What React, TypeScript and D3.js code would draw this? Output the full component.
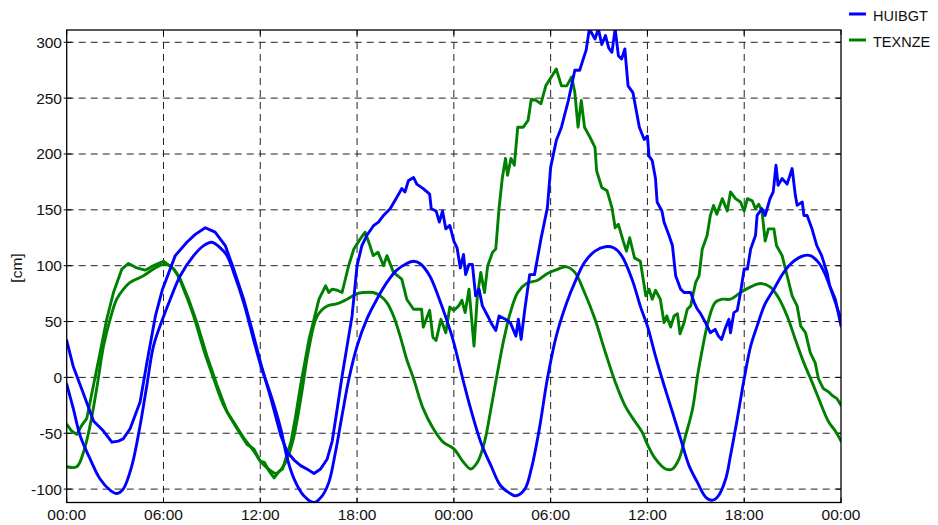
import React from 'react';
import * as d3 from 'd3';

// hours since start (0..48), values in cm
const xTickHours = [0, 6, 12, 18, 24, 30, 36, 42, 48];
const xTickLabels = ['00:00', '06:00', '12:00', '18:00', '00:00', '06:00', '12:00', '18:00', '00:00'];
const yTicks = [-100, -50, 0, 50, 100, 150, 200, 250, 300];
const seriesNames = ['HUIBGT', 'TEXNZE'];
const seriesColors = ['#0000ff', '#008000'];

// HUIBGT observed
const huibgtObs: [number, number][] = [
  [0, 33], [0.4, 10], [1.0, -13], [1.66, -39], [2.28, -48], [2.8, -58], [3.2, -57], [3.5, -55], [3.93, -46],
  [4.55, -22], [4.97, 13], [5.5, 55], [5.94, 79], [6.73, 109], [7.45, 121], [7.97, 128], [8.59, 134], [9.2, 130],
  [9.83, 118], [10.35, 97], [10.97, 70], [11.5, 42], [12.04, 12], [12.66, -19], [13.27, -52], [13.68, -67],
  [14.1, -74], [14.5, -79], [15.0, -83], [15.33, -86], [15.74, -82], [16.15, -73], [16.46, -57], [16.77, -28],
  [17.07, 1], [17.38, 28], [17.69, 55], [18.0, 100], [18.3, 118], [18.6, 127], [19.03, 136], [19.33, 139],
  [19.64, 145], [20.05, 151], [20.46, 161], [20.77, 169], [20.97, 166], [21.18, 176], [21.5, 179], [21.7, 173],
  [22.1, 169], [22.5, 164], [22.6, 151], [22.9, 149], [23.1, 139], [23.3, 149], [23.5, 133], [23.75, 136],
  [24.0, 122], [24.2, 116], [24.4, 98], [24.6, 110], [24.73, 92], [24.94, 101], [25.15, 101], [25.35, 73],
  [25.56, 79], [25.77, 64], [26.1, 55], [26.3, 49], [26.6, 42], [26.8, 55], [27.2, 52], [27.5, 49], [27.85, 37],
  [28.0, 52], [28.17, 34], [28.4, 61], [28.7, 92], [29.0, 92], [29.4, 124], [29.8, 152], [30.0, 188],
  [30.35, 212], [30.67, 224], [31.1, 248], [31.5, 275], [31.8, 275], [32.0, 284], [32.2, 293], [32.4, 312],
  [32.75, 303], [32.96, 312], [33.17, 298], [33.4, 306], [33.6, 295], [33.8, 291], [34.0, 312], [34.2, 288],
  [34.4, 285], [34.6, 294], [34.8, 261], [35.1, 255], [35.5, 224], [35.8, 213], [36.0, 216], [36.1, 198],
  [36.3, 194], [36.5, 178], [36.6, 157], [36.9, 149], [37.03, 139], [37.34, 127], [37.55, 118], [37.75, 91],
  [38.06, 79], [38.27, 76], [38.68, 76], [38.9, 67], [39.1, 61], [39.3, 57], [39.6, 49], [39.9, 40], [40.2, 43],
  [40.4, 37], [40.6, 34], [40.8, 43], [41.05, 52], [41.15, 40], [41.36, 58], [41.57, 60], [41.77, 76],
  [42.0, 97], [42.2, 97], [42.4, 115], [42.7, 127], [42.8, 145], [43.1, 151], [43.3, 145], [43.6, 160],
  [43.8, 166], [43.97, 190], [44.1, 172], [44.35, 178], [44.66, 173], [44.97, 187], [45.17, 163], [45.28, 154],
  [45.6, 157], [45.7, 145], [45.9, 145], [46.2, 133], [46.5, 118], [46.8, 109], [47.13, 94], [47.3, 82],
  [47.65, 70], [48, 46],
];

// HUIBGT astronomical
const huibgtAstro: [number, number][] = [
  [0, -6], [0.41, -28], [0.83, -52], [1.45, -73], [2.07, -91], [2.69, -101], [3.1, -104], [3.5, -100],
  [4.04, -79], [4.55, -43], [4.97, -7], [5.38, 28], [5.94, 52], [6.42, 70], [7.04, 91], [7.87, 109],
  [8.49, 118], [9.0, 121], [9.52, 116], [9.94, 109], [10.35, 94], [10.97, 67], [11.6, 33], [12.04, 10],
  [12.66, -16], [13.27, -46], [13.68, -73], [14.1, -91], [14.7, -106], [15.33, -112], [15.84, -106],
  [16.25, -94], [16.66, -67], [17.07, -34], [17.5, -1], [18.0, 28], [18.6, 52], [19.23, 70], [19.85, 85],
  [20.46, 96], [21.08, 102], [21.5, 104], [21.9, 102], [22.5, 91], [23.1, 70], [23.75, 43], [24.0, 31],
  [24.6, -4], [25.04, -28], [25.67, -58], [26.3, -79], [26.9, -97], [27.5, -104], [27.85, -106], [28.4, -100],
  [28.8, -82], [29.3, -46], [29.8, -1], [30.35, 37], [31.0, 67], [31.5, 85], [32.1, 103], [32.75, 113],
  [33.4, 117], [33.9, 116], [34.4, 109], [35.04, 88], [35.6, 62], [36.0, 46], [36.5, 19], [37.03, -7],
  [37.55, -31], [38.06, -55], [38.58, -79], [39.1, -94], [39.6, -107], [40.0, -110], [40.4, -106],
  [40.85, -91], [41.15, -70], [41.57, -37], [42.0, -1], [42.4, 28], [42.8, 46], [43.3, 66], [43.84, 79],
  [44.45, 94], [45.07, 104], [45.7, 109], [46.1, 109], [46.6, 103], [47.0, 93], [47.44, 76], [48, 52],
];

// TEXNZE observed
const texnzeObs: [number, number][] = [
  [0, -42], [0.31, -48], [0.62, -51], [0.93, -43], [1.24, -37], [1.66, -7], [2.07, 22], [2.48, 52], [2.9, 76],
  [3.42, 97], [3.83, 102], [4.35, 98], [4.86, 96], [5.38, 100], [6.0, 104], [6.63, 97], [7.04, 88], [7.56, 70],
  [8.07, 49], [8.7, 19], [9.32, -7], [9.94, -31], [10.56, -46], [11.18, -60], [11.6, -64], [12.0, -75],
  [12.25, -76], [12.55, -84], [12.86, -90], [13.17, -84], [13.38, -82], [13.9, -58], [14.2, -34], [14.5, -7],
  [15.02, 34], [15.33, 52], [15.64, 70], [16.05, 82], [16.25, 76], [16.46, 79], [16.77, 78], [17.07, 76],
  [17.48, 100], [17.8, 115], [18.2, 124], [18.5, 130], [18.8, 118], [19.0, 109], [19.3, 112], [19.64, 100],
  [19.85, 109], [20.26, 94], [20.77, 88], [21.08, 70], [21.5, 61], [22.0, 61], [22.1, 45], [22.5, 60],
  [22.7, 36], [22.9, 33], [23.2, 52], [23.5, 40], [23.75, 63], [24.0, 60], [24.3, 64], [24.5, 69], [24.7, 58],
  [24.94, 79], [25.25, 28], [25.46, 73], [25.67, 94], [25.9, 76], [26.1, 100], [26.4, 112], [26.6, 115],
  [26.8, 151], [27.0, 178], [27.2, 196], [27.33, 181], [27.54, 196], [27.75, 190], [27.96, 224], [28.3, 224],
  [28.6, 230], [28.8, 249], [29.1, 248], [29.4, 245], [29.7, 261], [30.04, 269], [30.35, 276], [30.67, 261],
  [31.0, 261], [31.3, 269], [31.5, 255], [31.7, 224], [31.9, 248], [32.1, 224], [32.44, 215], [32.75, 206],
  [32.85, 185], [33.17, 170], [33.5, 167], [33.8, 152], [34.0, 134], [34.2, 137], [34.5, 122], [34.7, 113],
  [34.9, 125], [35.2, 107], [35.56, 104], [35.8, 82], [35.9, 73], [36.1, 79], [36.3, 70], [36.5, 78],
  [36.8, 70], [37.03, 49], [37.2, 55], [37.44, 45], [37.65, 55], [37.86, 57], [38.02, 39], [38.27, 49],
  [38.47, 61], [38.68, 64], [38.99, 85], [39.2, 91], [39.4, 115], [39.7, 127], [39.9, 145], [40.1, 154],
  [40.3, 146], [40.64, 160], [40.95, 149], [41.15, 166], [41.46, 160], [41.77, 157], [42.0, 149], [42.2, 160],
  [42.5, 158], [42.7, 151], [42.9, 155], [43.1, 149], [43.3, 122], [43.5, 133], [43.84, 133], [44.0, 118],
  [44.35, 109], [44.66, 91], [44.97, 73], [45.28, 64], [45.5, 46], [45.8, 40], [46.1, 22], [46.4, 13],
  [46.6, -1], [46.9, -10], [47.24, -13], [47.44, -16], [47.75, -19], [48, -25],
];

// TEXNZE astronomical
const texnzeAstro: [number, number][] = [
  [0, -80], [0.62, -80], [1.04, -67], [1.45, -43], [1.86, -10], [2.28, 28], [2.69, 52], [3.1, 70], [3.52, 79],
  [3.93, 85], [4.76, 91], [5.38, 97], [5.94, 101], [6.42, 100], [6.83, 93], [7.25, 79], [7.87, 55], [8.49, 25],
  [9.11, -1], [9.73, -25], [10.35, -40], [10.97, -54], [11.6, -66], [12.0, -75], [12.5, -82], [13.0, -86],
  [13.5, -78], [14.0, -58], [14.5, -20], [15.0, 25], [15.53, 55], [16.15, 64], [16.77, 66], [17.38, 70],
  [18.0, 75], [18.4, 76], [19.0, 76], [19.44, 73], [19.85, 67], [20.26, 55], [20.67, 37], [21.08, 16],
  [21.5, -1], [22.1, -28], [22.73, -46], [23.34, -58], [24.0, -64], [24.6, -76], [25.04, -82], [25.46, -76],
  [25.9, -58], [26.3, -28], [26.7, 4], [27.1, 34], [27.5, 58], [27.96, 76], [28.5, 84], [29.2, 87], [29.8, 93],
  [30.46, 97], [31.0, 99], [31.5, 94], [32.1, 76], [32.75, 52], [33.4, 22], [34.0, -4], [34.6, -25],
  [35.25, -40], [35.67, -49], [36.0, -60], [36.5, -73], [37.13, -82], [37.55, -82], [37.96, -73], [38.37, -52],
  [38.8, -28], [39.1, 1], [39.4, 25], [39.8, 52], [40.2, 67], [40.64, 70], [41.15, 70], [41.77, 76], [42.4, 81],
  [43.0, 84], [43.6, 81], [44.1, 72], [44.66, 55], [45.17, 34], [45.7, 13], [46.2, -4], [46.7, -22],
  [47.24, -40], [47.65, -48], [48, -57],
];

const FONT = '"Liberation Sans", Arial, Helvetica, sans-serif';

export default function App() {
  const W = 938;
  const H = 525;
  const left = 66.7, right = 841, top = 30, bottom = 502.5;
  const x = d3.scaleLinear().domain([0, 48]).range([left, right]);
  const y = d3.scaleLinear().domain([-112, 311]).range([bottom, top]);

  const lineLin = d3.line<[number, number]>().x(d => x(d[0])).y(d => y(d[1]));
  const lineSmooth = d3
    .line<[number, number]>()
    .x(d => x(d[0]))
    .y(d => y(d[1]))
    .curve(d3.curveCatmullRom.alpha(0.5));

  const sw = 2.9;

  return (
    <svg
      width={W}
      height={H}
      style={{ position: 'absolute', left: 0, top: 0, background: '#fff' }}
      fontFamily={FONT}
    >
      <defs>
        <clipPath id="plotclip">
          <rect x={left} y={top} width={right - left} height={bottom - top} />
        </clipPath>
      </defs>
      <rect x={0} y={0} width={W} height={H} fill="#fff" />

      {/* grid */}
      <g stroke="#222" strokeWidth={1} strokeDasharray="7,5" fill="none">
        {xTickHours.slice(1, -1).map((h, i) => (
          <line key={'gx' + i} x1={x(h)} x2={x(h)} y1={top} y2={bottom} />
        ))}
        {yTicks.map((v, i) => (
          <line key={'gy' + i} x1={left} x2={right} y1={y(v)} y2={y(v)} />
        ))}
      </g>

      {/* ticks */}
      <g stroke="#000" strokeWidth={1}>
        {xTickHours.map((h, i) => (
          <g key={'tx' + i}>
            <line x1={x(h)} x2={x(h)} y1={bottom} y2={bottom - 5} />
            <line x1={x(h)} x2={x(h)} y1={top} y2={top + 5} />
          </g>
        ))}
        {yTicks.map((v, i) => (
          <g key={'ty' + i}>
            <line x1={left - 3} x2={left + 5} y1={y(v)} y2={y(v)} />
            <line x1={right - 5} x2={right} y1={y(v)} y2={y(v)} />
          </g>
        ))}
      </g>

      {/* lines */}
      <g clipPath="url(#plotclip)" fill="none" strokeLinejoin="round" strokeLinecap="round">
        <path d={lineSmooth(texnzeAstro) || ''} stroke={seriesColors[1]} strokeWidth={sw} />
        <path d={lineLin(texnzeObs) || ''} stroke={seriesColors[1]} strokeWidth={sw} />
        <path d={lineSmooth(huibgtAstro) || ''} stroke={seriesColors[0]} strokeWidth={sw} />
        <path d={lineLin(huibgtObs) || ''} stroke={seriesColors[0]} strokeWidth={sw} />
      </g>

      {/* frame */}
      <rect x={left} y={top} width={right - left} height={bottom - top} fill="none" stroke="#000" strokeWidth={1.3} />

      {/* tick labels */}
      <g fontSize={15.5} fill="#111">
        {xTickHours.map((h, i) => (
          <text key={'lx' + i} x={x(h)} y={520} textAnchor="middle">
            {xTickLabels[i]}
          </text>
        ))}
        {yTicks.map((v, i) => (
          <text key={'ly' + i} x={62} y={y(v) + 5.5} textAnchor="end">
            {v}
          </text>
        ))}
      </g>

      <text
        x={0}
        y={0}
        fontSize={15.5}
        fill="#111"
        textAnchor="middle"
        transform={`translate(22, 268) rotate(-90)`}
      >
        [cm]
      </text>

      {/* legend */}
      <g>
        {seriesNames.map((n, i) => (
          <g key={'lg' + i}>
            <line x1={849} x2={866} y1={14 + i * 26} y2={14 + i * 26} stroke={seriesColors[i]} strokeWidth={3} />
            <text x={873} y={15.5 + i * 26} dominantBaseline="central" fontSize={14.5} fill="#111">
              {n}
            </text>
          </g>
        ))}
      </g>
    </svg>
  );
}
